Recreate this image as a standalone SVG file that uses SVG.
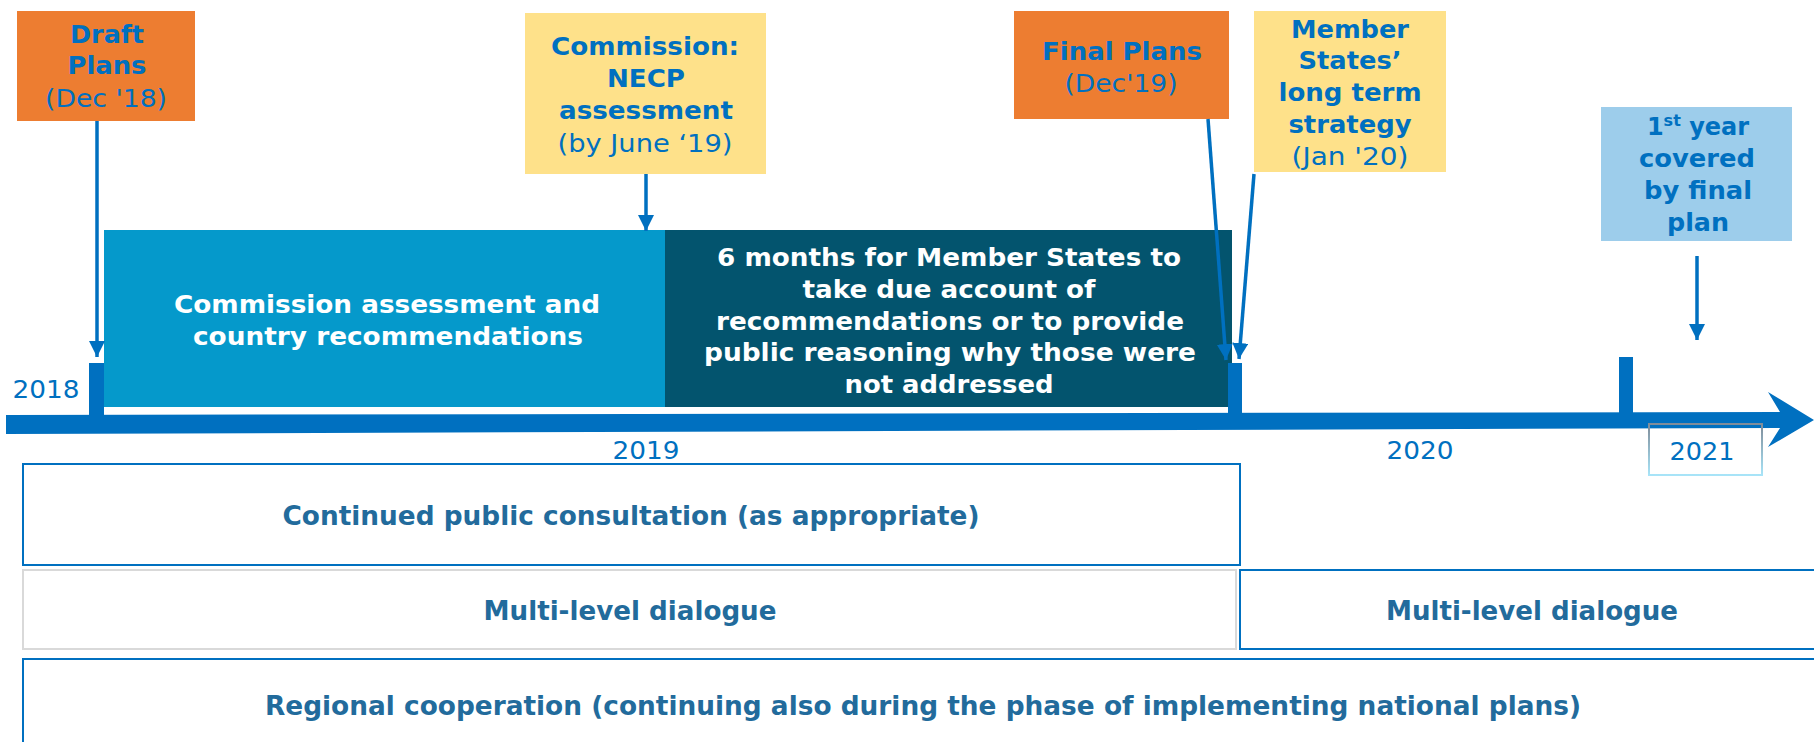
<svg xmlns="http://www.w3.org/2000/svg" width="1814" height="742" viewBox="0 0 1814 742">
  <defs>
    <marker id="ah" viewBox="0 0 16 16" refX="16" refY="8" markerWidth="16" markerHeight="16" markerUnits="userSpaceOnUse" orient="auto">
      <path d="M0,0 L16,8 L0,16 z" fill="#0070C0"/>
    </marker>
    <linearGradient id="g2021" x1="0" y1="0" x2="0" y2="1">
      <stop offset="0" stop-color="#7F8C99"/>
      <stop offset="1" stop-color="#A8E4F8"/>
    </linearGradient>
  </defs>
  <style>
    text { font-family: "DejaVu Sans", "Liberation Sans", sans-serif; text-anchor: middle; }
    .lb { font-weight: bold; font-size: 24px; fill: #0070C0; }
    .lr { font-size: 25px; fill: #0070C0; }
    .wb { font-weight: bold; font-size: 24px; fill: #FFFFFF; }
    .bb { font-weight: bold; font-size: 27px; fill: #226B9C; }
    .yr { font-size: 25px; fill: #0070C0; }
    .conn { stroke: #0070C0; stroke-width: 3.5; fill: none; marker-end: url(#ah); }
    .tick { fill: #0070C0; }
  </style>

  <rect width="1814" height="742" fill="#FFFFFF"/>

  <!-- Phase boxes -->
  <g id="phase-assessment">
    <rect x="104" y="230" width="562" height="177" fill="#0599CB"/>
    <text class="wb" x="387" y="313" textLength="426" lengthAdjust="spacingAndGlyphs">Commission assessment and</text>
    <text class="wb" x="388" y="345" textLength="390" lengthAdjust="spacingAndGlyphs">country recommendations</text>
  </g>
  <g id="phase-six-months">
    <rect x="665" y="230" width="567" height="177" fill="#03546E"/>
    <text class="wb" x="949" y="266" textLength="464" lengthAdjust="spacingAndGlyphs">6 months for Member States to</text>
    <text class="wb" x="949" y="298" textLength="293" lengthAdjust="spacingAndGlyphs">take due account of</text>
    <text class="wb" x="950" y="330" textLength="468" lengthAdjust="spacingAndGlyphs">recommendations or to provide</text>
    <text class="wb" x="950" y="361" textLength="492" lengthAdjust="spacingAndGlyphs">public reasoning why those were</text>
    <text class="wb" x="949" y="393" textLength="209" lengthAdjust="spacingAndGlyphs">not addressed</text>
  </g>

  <!-- Timeline -->
  <g id="timeline">
    <polygon points="6,415 1781,412 1781,428 6,434" fill="#0070C0"/>
    <polygon points="1768,392 1814,420 1768,447 1780,428 1780,412" fill="#0070C0"/>
    <rect class="tick" x="89" y="363" width="15" height="56"/>
    <rect class="tick" x="1228" y="363" width="14" height="52"/>
    <rect class="tick" x="1619" y="357" width="14" height="58"/>
    <text class="yr" x="46" y="398" textLength="67" lengthAdjust="spacingAndGlyphs">2018</text>
    <text class="yr" x="646" y="459" textLength="67" lengthAdjust="spacingAndGlyphs">2019</text>
    <text class="yr" x="1420" y="459" textLength="67" lengthAdjust="spacingAndGlyphs">2020</text>
    <rect x="1649" y="424" width="113" height="51" fill="none" stroke="url(#g2021)" stroke-width="2"/>
    <text class="yr" x="1702" y="460" textLength="65" lengthAdjust="spacingAndGlyphs">2021</text>
  </g>

  <!-- Milestone nodes -->
  <g id="draft-plans">
    <rect x="17" y="11" width="178" height="110" fill="#ED7D31"/>
    <text class="lb" x="107" y="43" textLength="74" lengthAdjust="spacingAndGlyphs">Draft</text>
    <text class="lb" x="107" y="74" textLength="79" lengthAdjust="spacingAndGlyphs">Plans</text>
    <text class="lr" x="106" y="107" textLength="122" lengthAdjust="spacingAndGlyphs">(Dec '18)</text>
  </g>
  <g id="commission-assessment">
    <rect x="525" y="13" width="241" height="161" fill="#FEE18A"/>
    <text class="lb" x="645" y="55" textLength="188" lengthAdjust="spacingAndGlyphs">Commission:</text>
    <text class="lb" x="646" y="87" textLength="78" lengthAdjust="spacingAndGlyphs">NECP</text>
    <text class="lb" x="646" y="119" textLength="174" lengthAdjust="spacingAndGlyphs">assessment</text>
    <text class="lr" x="645" y="152" textLength="175" lengthAdjust="spacingAndGlyphs">(by June ‘19)</text>
  </g>
  <g id="final-plans">
    <rect x="1014" y="11" width="215" height="108" fill="#ED7D31"/>
    <text class="lb" x="1122" y="60" textLength="160" lengthAdjust="spacingAndGlyphs">Final Plans</text>
    <text class="lr" x="1121" y="92" textLength="113" lengthAdjust="spacingAndGlyphs">(Dec'19)</text>
  </g>
  <g id="long-term-strategy">
    <rect x="1254" y="11" width="192" height="161" fill="#FEE18A"/>
    <text class="lb" x="1350" y="38" textLength="118" lengthAdjust="spacingAndGlyphs">Member</text>
    <text class="lb" x="1350" y="69" textLength="103" lengthAdjust="spacingAndGlyphs">States’</text>
    <text class="lb" x="1350" y="101" textLength="143" lengthAdjust="spacingAndGlyphs">long term</text>
    <text class="lb" x="1350" y="133" textLength="123" lengthAdjust="spacingAndGlyphs">strategy</text>
    <text class="lr" x="1350" y="165" textLength="117" lengthAdjust="spacingAndGlyphs">(Jan '20)</text>
  </g>
  <g id="first-year">
    <rect x="1601" y="107" width="191" height="134" fill="#9DCDEB"/>
    <text class="lb" x="1698" y="135">1<tspan font-size="16" dy="-9">st</tspan><tspan dy="9"> year</tspan></text>
    <text class="lb" x="1697" y="167" textLength="116" lengthAdjust="spacingAndGlyphs">covered</text>
    <text class="lb" x="1698" y="199" textLength="108" lengthAdjust="spacingAndGlyphs">by final</text>
    <text class="lb" x="1698" y="231" textLength="62" lengthAdjust="spacingAndGlyphs">plan</text>
  </g>

  <!-- Bottom bands -->
  <g id="public-consultation">
    <rect x="23" y="464" width="1217" height="101" fill="none" stroke="#0070C0" stroke-width="2"/>
    <text class="bb" x="631" y="525" textLength="697" lengthAdjust="spacingAndGlyphs">Continued public consultation (as appropriate)</text>
  </g>
  <g id="multi-level-1">
    <rect x="23" y="570" width="1213" height="79" fill="none" stroke="#D9D9D9" stroke-width="2"/>
    <text class="bb" x="630" y="620" textLength="293" lengthAdjust="spacingAndGlyphs">Multi-level dialogue</text>
  </g>
  <g id="multi-level-2">
    <rect x="1240" y="570" width="600" height="79" fill="none" stroke="#0070C0" stroke-width="2"/>
    <text class="bb" x="1532" y="620" textLength="292" lengthAdjust="spacingAndGlyphs">Multi-level dialogue</text>
  </g>
  <g id="regional-cooperation">
    <rect x="23" y="659" width="1820" height="100" fill="none" stroke="#0070C0" stroke-width="2"/>
    <text class="bb" x="923" y="715" textLength="1316" lengthAdjust="spacingAndGlyphs">Regional cooperation (continuing also during the phase of implementing national plans)</text>
  </g>

  <!-- Connectors -->
  <g id="connectors">
    <line class="conn" x1="97" y1="121" x2="97" y2="357"/>
    <line class="conn" x1="646" y1="174" x2="646" y2="231"/>
    <line class="conn" x1="1208" y1="119" x2="1226" y2="360"/>
    <line class="conn" x1="1254" y1="174" x2="1239" y2="359"/>
    <line class="conn" x1="1697" y1="256" x2="1697" y2="340"/>
  </g>
</svg>
